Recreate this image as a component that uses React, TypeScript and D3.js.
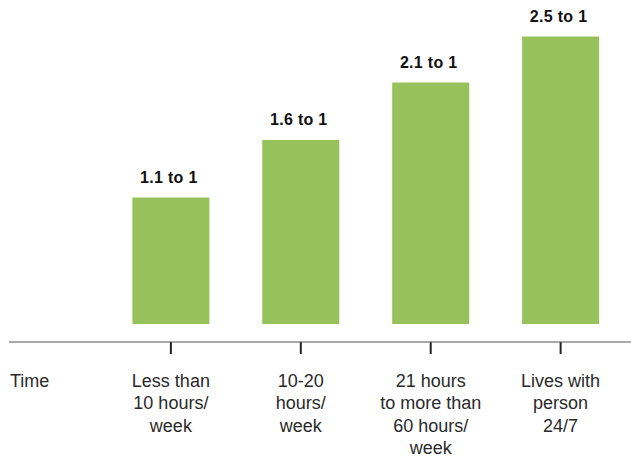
import React from "react";
import * as d3 from "d3";

// Caregiving intensity categories, split into display lines
const categories = [
  "Less than 10 hours/ week",
  "10-20 hours/ week",
  "21 hours to more than 60 hours/ week",
  "Lives with person 24/7",
];
const categoryLines = [
  ["Less than", "10 hours/", "week"],
  ["10-20", "hours/", "week"],
  ["21 hours", "to more than", "60 hours/", "week"],
  ["Lives with", "person", "24/7"],
];
const ratios = [1.1, 1.6, 2.1, 2.5];
const ratioLabels = ["1.1 to 1", "1.6 to 1", "2.1 to 1", "2.5 to 1"];
const axisTitle = "Time";

const W = 631;
const H = 459;
const FONT = "'Liberation Sans', Arial, Helvetica, sans-serif";
const GREEN = "#97c25b";

export default function App() {
  const x = d3
    .scaleBand<string>()
    .domain(categories)
    .range([106, 625.5])
    .paddingInner(0.407)
    .paddingOuter(0.203);

  const y = d3.scaleLinear().domain([0, 2.5]).range([324, 36.5]);

  const axisY = 342;

  return (
    <svg
      width={W}
      height={H}
      style={{ position: "absolute", left: 0, top: 0, background: "#fff" }}
      fontFamily={FONT}
    >
      {categories.map((c, i) => {
        const bx = x(c)!;
        const cx = bx + x.bandwidth() / 2;
        return (
          <g key={c}>
            <rect
              x={bx}
              y={y(ratios[i])}
              width={x.bandwidth()}
              height={y(0) - y(ratios[i])}
              fill={GREEN}
            />
            <text
              x={cx - 2}
              y={y(ratios[i]) - 15}
              textAnchor="middle"
              fontSize={16}
              fontWeight="bold"
              fill="#111"
              letterSpacing={0.3}
            >
              {ratioLabels[i]}
            </text>
            <line
              x1={cx}
              x2={cx}
              y1={axisY}
              y2={axisY + 12}
              stroke="#222"
              strokeWidth={2}
            />
            <text textAnchor="middle" fontSize={18} fill="#2a2a2a">
              {categoryLines[i].map((line, j) => (
                <tspan key={j} x={cx} y={386.5 + j * 22.5}>
                  {line}
                </tspan>
              ))}
            </text>
          </g>
        );
      })}
      <line x1={9} x2={W} y1={axisY} y2={axisY} stroke="#555" strokeWidth={1.2} />
      <text x={10} y={386.5} fontSize={18} fill="#2a2a2a">
        {axisTitle}
      </text>
    </svg>
  );
}
